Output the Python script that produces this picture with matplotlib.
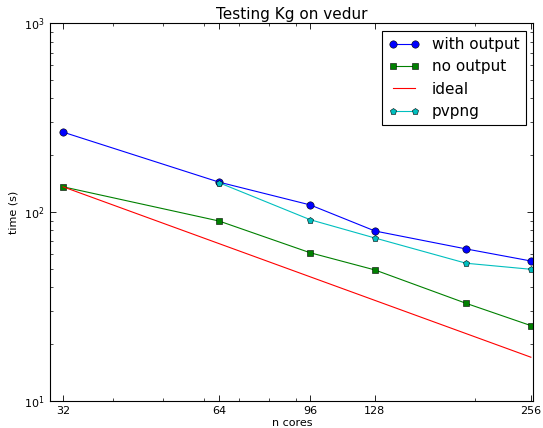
import matplotlib
matplotlib.use('Agg')
import matplotlib.pyplot as plt
from matplotlib.ticker import FixedLocator, FixedFormatter, LogLocator, NullFormatter

# number of cores used in each run
cores = [32, 64, 96, 128, 192, 256]
pvpng_cores = [64, 96, 128, 192, 256]
ideal_cores = [32, 256]

# wall clock times (s)
with_output = [265, 144, 109, 79.3, 63.7, 55.0]
no_output = [136, 89.6, 60.8, 49.3, 32.8, 25.0]
ideal = [136, 17]
pvpng = [143, 91.0, 72.8, 53.5, 49.7]

xtick_values = [32, 64, 96, 128, 256]
xtick_labels = ['32', '64', '96', '128', '256']

plt.rcParams['font.family'] = 'DejaVu Sans'

fig = plt.figure(figsize=(5.43, 4.28), dpi=100)
ax = fig.add_axes([0.0921, 0.0638, 0.8904, 0.8818])

ax.loglog(cores, with_output, 'b-o', lw=0.8, ms=5.3, mec='k', mew=0.4, label='with output')
ax.loglog(cores, no_output, 'g-s', lw=0.8, ms=5, mec='k', mew=0.4, label='no output')
ax.loglog(ideal_cores, ideal, 'r-', lw=0.8, label='ideal')
ax.loglog(pvpng_cores, pvpng, 'c-p', lw=0.8, ms=4.6, mec='k', mew=0.4, label='pvpng')

ax.set_xlim(30.2, 259)
ax.set_ylim(10, 1000)

ax.xaxis.set_major_locator(FixedLocator(xtick_values))
ax.xaxis.set_major_formatter(FixedFormatter(xtick_labels))
ax.xaxis.set_minor_locator(LogLocator(base=10, subs=range(2, 10)))
ax.xaxis.set_minor_formatter(NullFormatter())

ax.tick_params(which='both', direction='in', top=True, right=True, labelsize=8, pad=4)
ax.tick_params(which='major', length=4, width=0.6)
ax.tick_params(which='minor', length=2, width=0.5)
for s in ax.spines.values():
    s.set_linewidth(0.8)

ax.set_xlabel('n cores', fontsize=8, labelpad=1)
ax.set_ylabel('time (s)', fontsize=8, labelpad=4)
ax.set_title('Testing Kg on vedur', fontsize=11, pad=3)

leg = ax.legend(loc='upper right', numpoints=2, fontsize=11, fancybox=False,
                edgecolor='k', framealpha=1, borderaxespad=0.5, handlelength=2.0,
                handletextpad=0.85, labelspacing=0.48, borderpad=0.4)
leg.get_frame().set_linewidth(0.8)

fig.savefig('out.png', dpi=100)
